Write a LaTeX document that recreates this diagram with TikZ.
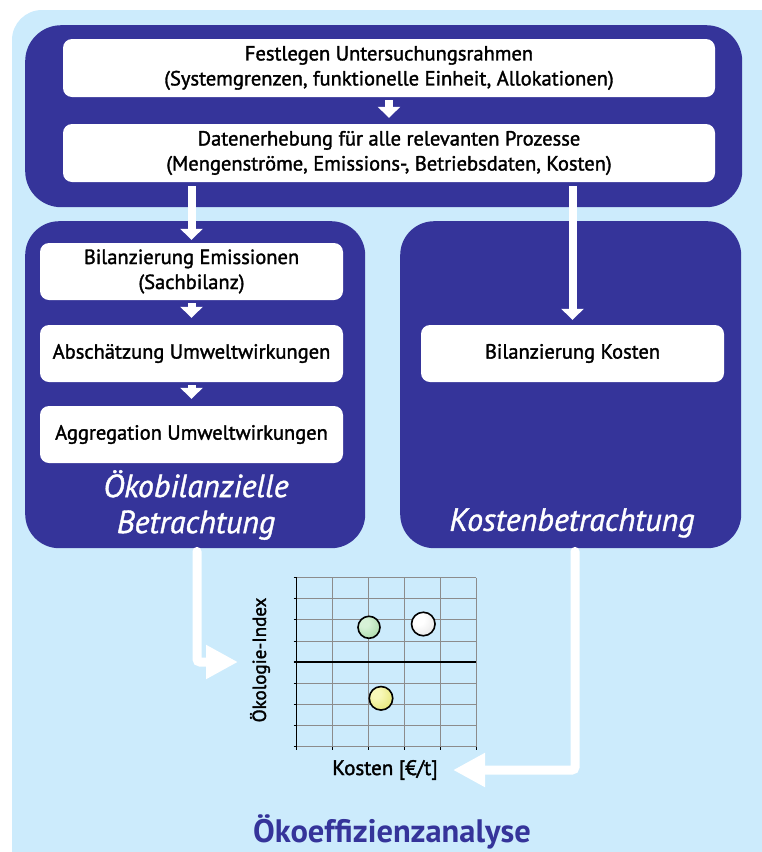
\documentclass[tikz,border=0pt]{standalone}
\usepackage{fontspec}
\setmainfont{PT Sans}
\newfontfamily\boxfont{PT Sans}[FakeBold=1.6]
\newfontfamily\itfont{PT Sans Italic}[FakeBold=1.2]
\usetikzlibrary{arrows.meta}
\definecolor{dkblue}{RGB}{53,52,154}
\definecolor{ltblue}{RGB}{204,235,252}
\definecolor{gridgray}{RGB}{140,140,140}
\definecolor{gA}{RGB}{215,242,215}\definecolor{gB}{RGB}{172,220,172}\definecolor{gC}{RGB}{130,180,130}
\definecolor{yA}{RGB}{248,248,185}\definecolor{yB}{RGB}{230,230,120}\definecolor{yC}{RGB}{185,185,85}
\definecolor{wA}{RGB}{255,255,255}\definecolor{wB}{RGB}{232,232,232}\definecolor{wC}{RGB}{165,165,165}
\pgfdeclareradialshading{ballgreen}{\pgfpoint{-12bp}{12bp}}{color(0bp)=(gA); color(10bp)=(gA); color(35bp)=(gB); color(58bp)=(gB!85!black); color(75bp)=(gC)}
\pgfdeclareradialshading{ballwhite}{\pgfpoint{-12bp}{12bp}}{color(0bp)=(wA); color(12bp)=(wA); color(35bp)=(wB); color(58bp)=(wB!80!black); color(75bp)=(wC)}
\pgfdeclareradialshading{ballyellow}{\pgfpoint{-12bp}{12bp}}{color(0bp)=(yA); color(10bp)=(yA); color(35bp)=(yB); color(58bp)=(yB!88!black); color(75bp)=(yC)}
\begin{document}
\begin{tikzpicture}[x=1pt,y=-1pt,
  bigbox/.style={fill=dkblue, rounded corners=36pt, inner sep=0pt, anchor=north west},
  wbox/.style={fill=white, rounded corners=9pt, inner sep=0pt, align=center,
    font=\boxfont\fontsize{20.5}{25}\selectfont, text=black},
  smallflow/.style={draw=white, line width=8pt, -{Triangle[width=22pt,length=11pt]}},
  bigflow/.style={draw=white, line width=9pt, line cap=round, rounded corners=3pt, -{Triangle[width=32pt,length=32pt]}},
  ittext/.style={text=white, font=\itfont\fontsize{32}{36}\selectfont, align=center},
  ball/.style={circle, draw=black, line width=1.6pt, inner sep=0pt},
]
\useasboundingbox (0,0) rectangle (761,852);
% background
\fill[ltblue, rounded corners=30pt] (12,10) rectangle (790,900);

% top container
\node[bigbox, minimum width=717pt, minimum height=182pt] (topbox) at (25,25) {};
\node[wbox, minimum width=652pt, minimum height=58pt] (w1) at (389,68) {Festlegen Untersuchungsrahmen\\(Systemgrenzen, funktionelle Einheit, Allokationen)};
\node[wbox, minimum width=652pt, minimum height=58pt] (w2) at (389,153) {Datenerhebung für alle relevanten Prozesse\\(Mengenströme, Emissions-, Betriebsdaten, Kosten)};

% left / right containers
\node[bigbox, rounded corners=34pt, minimum width=340pt, minimum height=327pt] (lbox) at (25,221) {};
\node[bigbox, rounded corners=34pt, minimum width=341pt, minimum height=327pt] (rbox) at (400,221) {};

\node[wbox, minimum width=303pt, minimum height=57pt] (a1) at (191.5,271.5) {Bilanzierung Emissionen\\(Sachbilanz)};
\node[wbox, minimum width=303pt, minimum height=57pt] (a2) at (191.5,353.5) {Abschätzung Umweltwirkungen};
\node[wbox, minimum width=303pt, minimum height=57pt] (a3) at (191.5,434.5) {Aggregation Umweltwirkungen};
\node[wbox, minimum width=303pt, minimum height=57pt] (k1) at (572.5,353.5) {Bilanzierung Kosten};

\node[ittext] (lt) at (196,505) {Ökobilanzielle\\Betrachtung};
\node[ittext] (rt) at (572,523) {Kostenbetrachtung};

% flows
\draw[smallflow, shorten <=3pt, shorten >=6pt] (w1.south) -- (w2.north);
\draw[smallflow, shorten <=4pt, shorten >=3pt] (a1.north |- w2.south) -- (a1.north);
\draw[smallflow, shorten <=4pt, shorten >=5pt] (k1.north |- w2.south) -- (k1.north);
\draw[smallflow, shorten <=3pt, shorten >=7pt] (a1.south) -- (a2.north);
\draw[smallflow, shorten <=3pt, shorten >=7pt] (a2.south) -- (a3.north);

% chart
\begin{scope}
\foreach \x in {332.7,368.6,404.5,440.4,476.3}
  \draw[gridgray, line width=1pt] (\x,577.7) -- (\x,746.7);
\foreach \y in {577.7,598.8,619.9,641.1,683.4,704.5,725.6,746.7}
  \draw[gridgray, line width=1pt] (296.7,\y) -- (476.3,\y);
\foreach \y in {577.7,598.8,619.9,641.1,662.3,683.4,704.5,725.6,746.7}
  \draw[black, line width=1pt] (293.5,\y) -- (296.7,\y);
\foreach \x in {296.7,332.7,368.6,404.5,440.4,476.3}
  \draw[black, line width=1pt] (\x,746.7) -- (\x,750);
\draw[black, line width=1.2pt] (296.7,577.7) -- (296.7,746.7);
\draw[black, line width=2pt] (293.5,662.3) -- (476.3,662.3);
\end{scope}
\node[ball, minimum size=22pt, shading=ballgreen] (bg) at (369,627.3) {};
\node[ball, minimum size=23.5pt, shading=ballwhite] (bw) at (423.3,624) {};
\node[ball, minimum size=23.5pt, shading=ballyellow] (by) at (381,698.3) {};

\node[rotate=90, font=\boxfont\fontsize{19}{22}\selectfont] (ylab) at (260,660) {Ökologie-Index};
\node[font=\boxfont\fontsize{21}{24}\selectfont] (xlab) at (385,770) {Kosten [€/t]};

\coordinate (ltip) at (238,662);
\coordinate (rtip) at (453,770);
\draw[bigflow, shorten <=3pt] (lbox.south -| 197,0) |- (ltip);
\draw[bigflow, shorten <=3pt] (rbox.south -| 575,0) |- (rtip);

\node[text=dkblue, font=\bfseries\fontsize{32.5}{36}\selectfont] (title) at (392,832) {Ökoeffizienzanalyse};
\end{tikzpicture}
\end{document}
